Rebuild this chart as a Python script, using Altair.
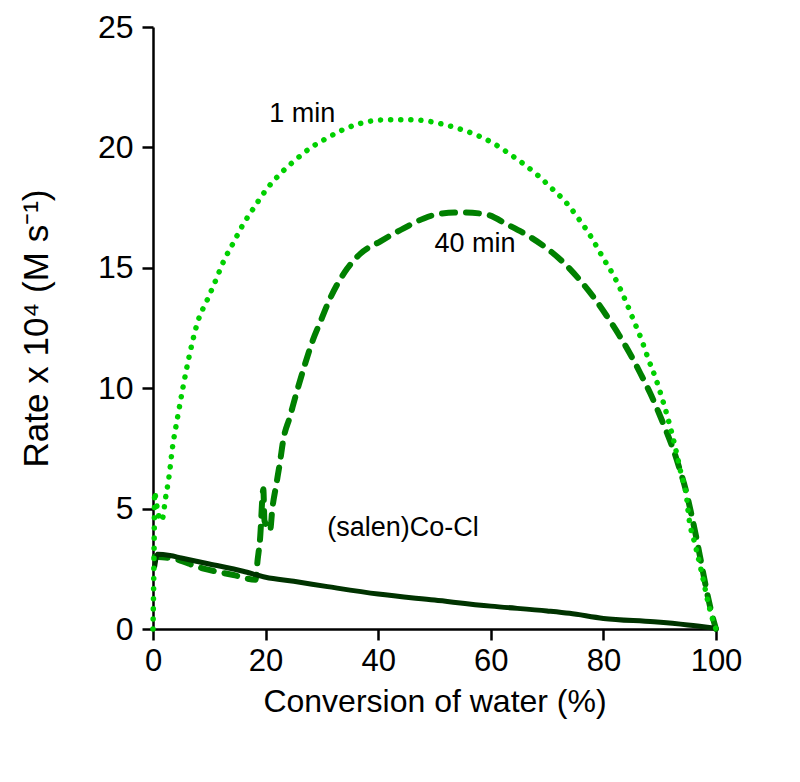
import altair as alt
import pandas as pd

# ---- data ----
x_1min = [0, 0.1, 0.2, 0.3, 0.55, 0.85, 1.3, 1.7, 2.2, 2.8, 3.5, 4.3, 5.3, 6.5, 8.0,
          9.6, 11.0, 12.6, 14.3, 16.0, 17.8, 20.3, 22.8, 25.4, 28.1, 31.0, 33.9, 36.9,
          41.6, 45.2, 48.5, 51.7, 54.7, 57.6, 60.6, 63.2, 65.9, 68.3, 70.6, 73.6, 75.4,
          77.5, 80.1, 82.0, 84.0, 85.4, 86.8, 88.0, 89.3, 90.4, 91.4, 92.3, 93.1, 93.8,
          94.7, 95.2, 96.3, 97.5, 98.6, 99.4, 100]
y_1min = [0, 1.5, 3.5, 5.7, 5.3, 4.9, 4.5, 4.6, 5.4, 6.25, 7.6, 8.7, 10.0, 11.4, 12.8,
          13.65, 14.4, 15.3, 16.05, 16.8, 17.45, 18.3, 18.95, 19.5, 20.0, 20.4, 20.75, 21.0,
          21.15, 21.15, 21.1, 20.95, 20.75, 20.5, 20.15, 19.75, 19.3, 18.85, 18.35, 17.65, 17.1,
          16.4, 15.35, 14.6, 13.6, 12.8, 12.0, 11.2, 10.4, 9.6, 8.8, 8.0, 7.2, 6.45,
          5.6, 4.6, 3.5, 2.3, 1.1, 0.4, 0]

x_40min = [0.3, 3, 8.8, 14.3, 18.2, 18.6, 19.0, 19.6, 19.8, 20.8, 21.2, 21.9, 22.6, 23.1,
           24.3, 25.6, 27.0, 28.4, 29.8, 31.3, 32.7, 34.5, 36.9, 40.4, 44.6, 48.1, 51.1,
           55.3, 59.4, 62.9, 66.5, 70.0, 73.0, 75.6, 78.2, 80.6, 82.8, 84.8, 86.6, 88.3,
           89.8, 91.2, 92.5, 93.6, 94.6, 95.5, 96.5, 97.5, 98.6, 99.4, 100]
y_40min = [3.0, 2.95, 2.52, 2.24, 2.05, 2.9, 3.7, 5.8, 4.5, 4.1, 5.0, 6.0, 7.0, 7.8,
           8.8, 9.9, 11.0, 12.0, 12.8, 13.65, 14.3, 14.97, 15.6, 16.1, 16.65, 17.05, 17.25,
           17.3, 17.2, 16.8, 16.35, 15.8, 15.2, 14.55, 13.8, 13.0, 12.2, 11.4, 10.6, 9.8,
           9.0, 8.2, 7.4, 6.6, 5.8, 4.9, 3.8, 2.6, 1.3, 0.5, 0]

x_salen = [0.3, 0.8, 3, 5, 10, 16, 20, 25, 31, 40, 50, 60, 70, 74, 80, 89, 95, 100]
y_salen = [2.6, 3.1, 3.05, 2.95, 2.7, 2.4, 2.15, 1.98, 1.76, 1.45, 1.2, 0.95, 0.75, 0.65,
           0.44, 0.3, 0.17, 0.03]

label_text = ["1 min", "40 min", "(salen)Co-Cl"]
label_x = [26.5, 57.2, 44.4]
label_y = [21.4, 16.0, 4.2]

x_ticks = [0, 20, 40, 60, 80, 100]
y_ticks = [0, 5, 10, 15, 20, 25]

FONT = "Liberation Sans"

df1 = pd.DataFrame({"x": x_1min, "y": y_1min, "o": list(range(len(x_1min)))})
df40 = pd.DataFrame({"x": x_40min, "y": y_40min, "o": list(range(len(x_40min)))})
dfs = pd.DataFrame({"x": x_salen, "y": y_salen, "o": list(range(len(x_salen)))})
dfl = pd.DataFrame({"x": label_x, "y": label_y, "t": label_text})

xscale = alt.Scale(domain=[0, 100], nice=False, zero=False)
yscale = alt.Scale(domain=[0, 25], nice=False, zero=False)

xaxis = alt.Axis(values=x_ticks, format="d", grid=False, labelFont=FONT, labelFontSize=31,
                 labelColor="black", labelFlush=False, labelOverlap=False, labelPadding=6,
                 tickColor="black", tickWidth=2.5, tickSize=11, domainColor="black",
                 domainWidth=2.5, titleFont=FONT, titleFontSize=32, titleFontWeight="normal",
                 titleColor="black", titleY=72, titleBaseline="middle")
yaxis = alt.Axis(values=y_ticks, format="d", grid=False, labelFont=FONT, labelFontSize=32,
                 labelColor="black", labelFlush=False, labelOverlap=False, labelPadding=9,
                 tickColor="black", tickWidth=2.5, tickSize=11, domainColor="black",
                 domainWidth=2.5, titleFont=FONT, titleFontSize=35, titleFontWeight="normal",
                 titleColor="black", titleX=-117, titleBaseline="middle")

X = alt.X("x:Q", scale=xscale, axis=xaxis, title="Conversion of water (%)")
Y = alt.Y("y:Q", scale=yscale, axis=yaxis, title="Rate x 10\u2074 (M s\u207b\u00b9)")

salen = alt.Chart(dfs).mark_line(color="#003300", strokeWidth=5, strokeCap="round",
                                 interpolate="monotone").encode(x=X, y=Y, order="o:Q")
m40 = alt.Chart(df40).mark_line(color="#008000", strokeWidth=6, strokeDash=[13, 11],
                                strokeCap="round", interpolate="monotone").encode(
    x=X, y=Y, order="o:Q")
m1 = alt.Chart(df1).mark_line(color="#00D000", strokeWidth=5.5, strokeDash=[0.1, 10],
                              strokeCap="round", interpolate="monotone").encode(
    x=X, y=Y, order="o:Q")
labels = alt.Chart(dfl).mark_text(font=FONT, fontSize=27, color="black", align="center",
                                  baseline="middle").encode(x=X, y=Y, text="t:N")

chart = alt.layer(m40, salen, m1, labels).properties(
    width=563, height=602,
    autosize=alt.AutoSizeParams(type="none"),
    padding={"left": 145, "top": 19, "right": 70, "bottom": 120},
).configure_view(stroke=None)

chart.save("out.html", embed_options={"renderer": "svg", "actions": False})
